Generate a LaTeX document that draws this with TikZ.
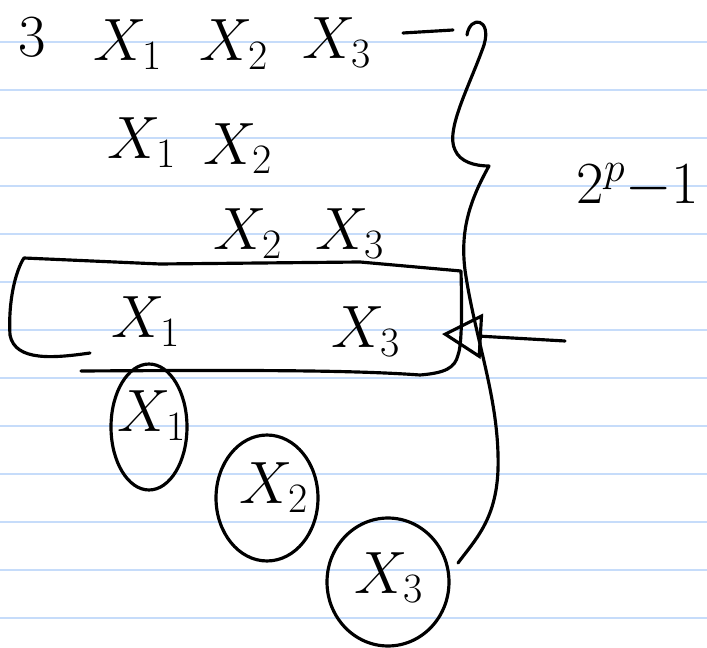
\RequirePackage{fix-cm}
\documentclass[tikz,border=0pt]{standalone}
\usepackage{amsmath}
\usepackage{xcolor}
\usetikzlibrary{arrows.meta,positioning,calc}

\definecolor{ruled}{RGB}{198,220,250}

\begin{document}
\begin{tikzpicture}[x=0.02cm, y=-0.02cm,
    ink/.style={line width=1.8pt, line cap=round, line join=round},
    hand/.style={inner sep=0pt, font=\fontsize{34}{40}\selectfont}]
    \useasboundingbox (0,0) rectangle (707,648);

    % Paper
    \foreach \y in {42,90,...,618}
        \draw[ruled, line width=1.3pt] (0,\y) -- (707,\y);

    % All three
    \node[hand] (n) at (32,37) {$3$};
    \node[hand] (aa) at (128,45) {$X_1$};
    \node[hand] (ab) at (234,45) {$X_2$};
    \node[hand] (ac) at (337,43) {$X_3$};
    \draw[ink] (403,33) -- (453,30);

    % Pairs
    \node[hand] (ba) at (142,143) {$X_1$};
    \node[hand] (bb) at (238,149) {$X_2$};
    \node[hand] (cb) at (248,234) {$X_2$};
    \node[hand] (cc) at (350,234) {$X_3$};
    \node[hand] (da) at (146,322) {$X_1$};
    \node[hand] (dc) at (366,332) {$X_3$};

    % Box round the pair
    \draw[ink] (90,353) .. controls (55,358) and (15,362) .. (10,335)
        .. controls (8,300) and (16,270) .. (24,258) -- (160,264) -- (360,262) -- (461,271)
        .. controls (462,310) and (462,345) .. (458,355)
        .. controls (455,368) and (445,373) .. (420,375)
        .. controls (350,370) and (250,370) .. (81,371);

    % Singles
    \node[hand] (ea) at (152,416) {$X_1$};
    \node[hand] (eb) at (274,488) {$X_2$};
    \node[hand] (ec) at (389,578) {$X_3$};
    \draw[ink] (149,427) ellipse [x radius=0.76cm, y radius=1.26cm];
    \draw[ink] (267,498) ellipse [x radius=1.02cm, y radius=1.26cm];
    \draw[ink] (388,582) ellipse [x radius=1.22cm, y radius=1.28cm];

    % Brace and count
    \draw[ink] (467,35) .. controls (470,15) and (492,18) .. (484,45)
        .. controls (470,85) and (445,130) .. (455,150)
        .. controls (460,162) and (475,166) .. (489,166)
        .. controls (470,200) and (460,230) .. (465,270)
        .. controls (475,340) and (500,400) .. (498,470)
        .. controls (496,520) and (475,540) .. (458,563);
    \node[hand] (cnt) at (638,186) {${2^{p}}{-}1$};

    % Arrow to the boxed pair
    \coordinate (tail) at (565,341);
    \coordinate (tip) at (442,334);
    \draw[ink, -{Triangle[open, length=0.8cm, width=0.9cm, line width=1.8pt]}] (tail) -- (tip);
\end{tikzpicture}
\end{document}
